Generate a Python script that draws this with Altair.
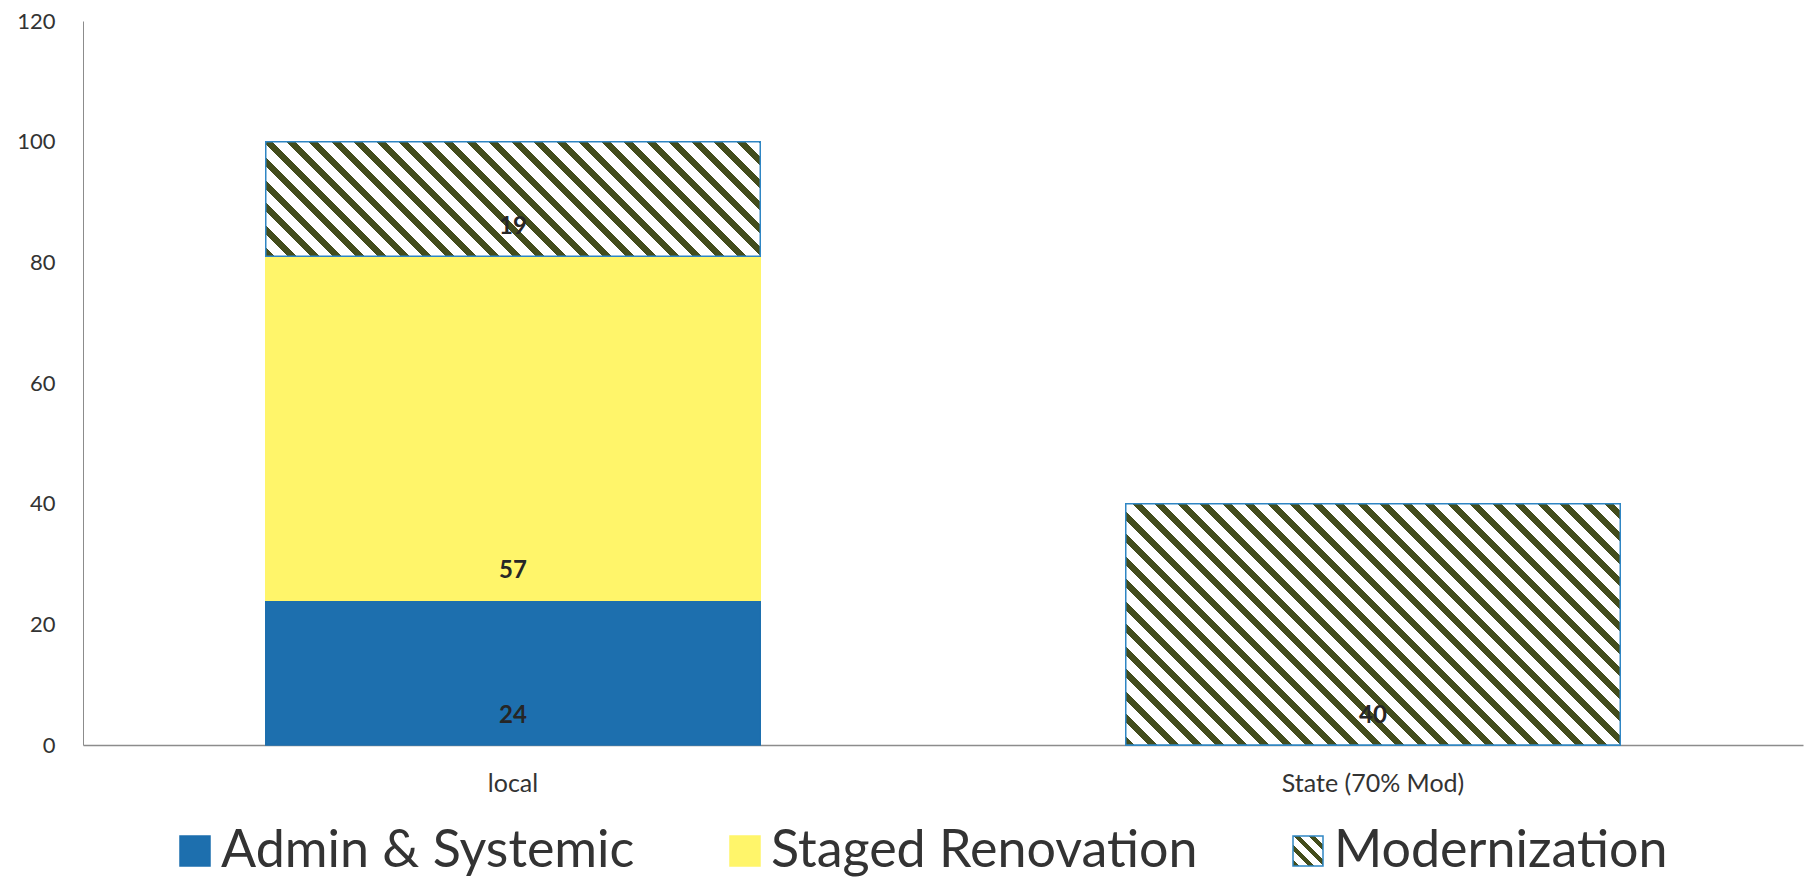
import altair as alt
import pandas as pd

categories = ["local", "State (70% Mod)"]
series = ["Admin & Systemic", "Staged Renovation", "Modernization"]
local_values = [24, 57, 19]
state_values = [None, None, 40]
y_ticks = [0, 20, 40, 60, 80, 100, 120]

BLUE = "#1d6fae"
YELLOW = "#fff56a"
STRIPE = "#434d1c"
BORDER = "#2f86c4"
TEXT = "#333333"
FONT = "Lato"

rows = []
for cat, vals in zip(categories, [local_values, state_values]):
    for i, (s, v) in enumerate(zip(series, vals)):
        if v is not None:
            rows.append({"category": cat, "series": s, "value": v, "order": i})
df = pd.DataFrame(rows)

PLOT_W, PLOT_H = 1720, 724
PAD_IN, PAD_OUT = 0.425, 0.2125
step = PLOT_W / (len(categories) - PAD_IN + 2 * PAD_OUT)
band = step * (1 - PAD_IN)
px_per_unit = PLOT_H / 120.0
H_PERIOD = 22.5
DARK_FRAC = 0.40


def stripes(w, h, period=H_PERIOD):
    r = h / w
    a = (1 + r) / (1 + r * r)
    n = (w + h) / period
    stops = []
    k = 0
    while k / n < 1:
        s0 = k / n
        s1 = min((k + DARK_FRAC) / n, 1.0)
        s2 = min((k + 1) / n, 1.0)
        stops += [(s0, STRIPE), (s1, STRIPE), (s1, "#ffffff"), (s2, "#ffffff")]
        k += 1
    return {"x1": 0, "y1": 1, "x2": round(a, 5), "y2": round(1 - a * r, 5), "stops": stops}


def gradient_obj(g):
    return {
        "gradient": "linear",
        "x1": g["x1"], "y1": g["y1"], "x2": g["x2"], "y2": g["y2"],
        "stops": [{"offset": round(o, 5), "color": c} for o, c in g["stops"]],
    }


def gradient_expr(g):
    st = ", ".join("{offset: %s, color: '%s'}" % (round(o, 5), c) for o, c in g["stops"])
    return "{gradient: 'linear', x1: %s, y1: %s, x2: %s, y2: %s, stops: [%s]}" % (
        g["x1"], g["y1"], g["x2"], g["y2"], st)


local_mod_h = local_values[2] * px_per_unit
state_mod_h = state_values[2] * px_per_unit
grad_local = gradient_obj(stripes(band, local_mod_h))
grad_state = gradient_obj(stripes(band, state_mod_h))
legend_grad = gradient_expr(stripes(30, 30, period=15))

x_enc = alt.X(
    "category:N",
    sort=categories,
    scale=alt.Scale(paddingInner=PAD_IN, paddingOuter=PAD_OUT),
    axis=alt.Axis(
        title=None, labelAngle=0, labelFont=FONT, labelFontSize=25, labelColor=TEXT,
        labelPadding=26, labelLimit=600, ticks=False, tickSize=0,
        domainColor="#8c8c8c", domainWidth=1.5, grid=False,
    ),
)
y_enc = alt.Y(
    "y1:Q",
    scale=alt.Scale(domain=[0, 120], nice=False),
    axis=alt.Axis(
        title=None, values=y_ticks, labelFont=FONT, labelFontSize=22, labelColor=TEXT,
        labelPadding=28, ticks=False, tickSize=0, domainColor="#8c8c8c", domainWidth=1,
        grid=False,
    ),
)

legend = alt.Legend(
    title=None, orient="none", legendX=86, legendY=804, direction="horizontal",
    labelFont=FONT, labelFontSize=52, labelColor=TEXT, labelLimit=1000,
    symbolType="square", symbolSize=900, symbolStrokeWidth=1.5, labelOffset=0,
    columnPadding=84, padding=0,
)

base = alt.Chart(df).transform_stack(
    stack="value", groupby=["category"], as_=["y0", "y1"],
    sort=[alt.SortField("order", order="ascending")],
)

bars = base.mark_bar(strokeWidth=1.5).encode(
    x=x_enc,
    y=y_enc,
    y2="y0:Q",
    color=alt.Color(
        "series:N",
        scale=alt.Scale(domain=series, range=[BLUE, YELLOW, {"expr": legend_grad}]),
        legend=legend,
    ),
    stroke=alt.Stroke(
        "series:N",
        scale=alt.Scale(domain=series, range=[BLUE, YELLOW, BORDER]),
        legend=legend,
    ),
)

over_local = base.transform_filter(
    (alt.datum.category == categories[0]) & (alt.datum.series == series[2])
).mark_bar(fill=grad_local, stroke=BORDER, strokeWidth=1.5).encode(x=x_enc, y=y_enc, y2="y0:Q")

over_state = base.transform_filter(
    (alt.datum.category == categories[1]) & (alt.datum.series == series[2])
).mark_bar(fill=grad_state, stroke=BORDER, strokeWidth=1.5).encode(x=x_enc, y=y_enc, y2="y0:Q")

labels = base.mark_text(
    font=FONT, fontSize=24, fontWeight="bold", color="#262626", dy=-29, baseline="middle"
).encode(x=x_enc, y=alt.Y("y0:Q"), text="value:Q")

chart = alt.layer(bars, over_local, over_state, labels).properties(
    width=PLOT_W,
    height=PLOT_H,
    padding={"left": 75, "top": 13, "right": 3, "bottom": 133},
    autosize=alt.AutoSizeParams(type="none"),
    background="white",
).configure_view(stroke="transparent")

chart.save("out.html", embed_options={"renderer": "svg", "actions": False})
